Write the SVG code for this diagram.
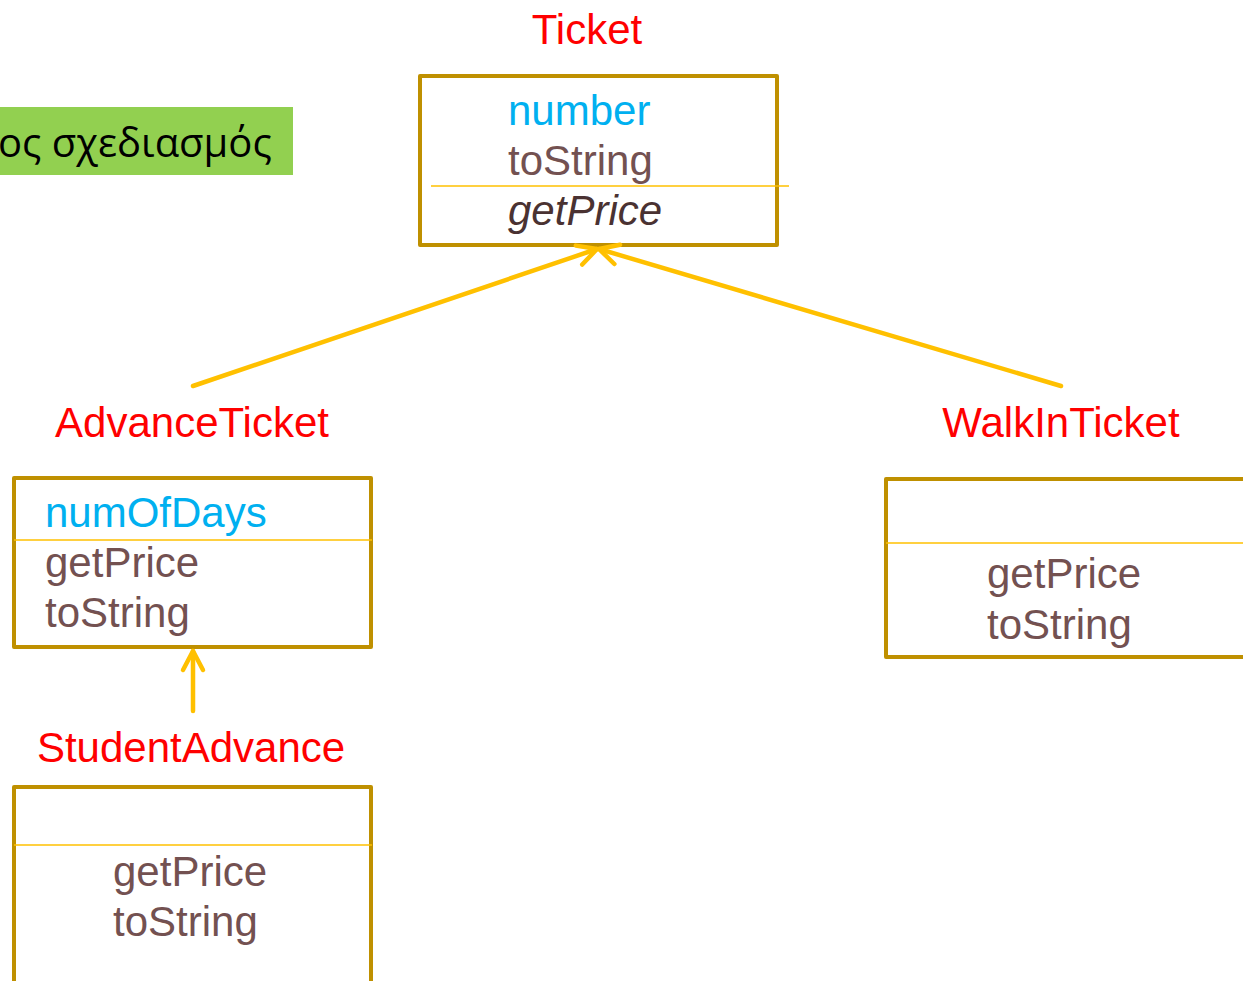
<svg xmlns="http://www.w3.org/2000/svg" width="1243" height="981" viewBox="0 0 1243 981">
<style>
.box{fill:#fff;stroke:#BF9000;stroke-width:4;stroke-linejoin:round}
.div{stroke:#FFC000;stroke-width:1.5}
.title{font-family:"Liberation Sans",Arial,sans-serif;font-size:42px;fill:#FF0000}
.attr{font-family:"Liberation Sans",Arial,sans-serif;font-size:42px;fill:#00B0F0}
.meth{font-family:"Liberation Sans",Arial,sans-serif;font-size:42px;fill:#735151}
.abs{font-family:"Liberation Sans",Arial,sans-serif;font-size:42px;font-style:italic;fill:#4A3232}
.conn{stroke:#FFC000;stroke-width:4.5;fill:none;stroke-linecap:round}
</style>
<defs>
<marker id="open" markerUnits="userSpaceOnUse" viewBox="-24 -14 28 28" refX="0" refY="0" markerWidth="28" markerHeight="28" orient="auto">
<path d="M-19,-10 L0,0 L-19,10" fill="none" stroke="#FFC000" stroke-width="4.5" stroke-linecap="round" stroke-linejoin="round"/>
</marker>
</defs>
<rect width="1243" height="981" fill="#fff"/>
<g id="banner">
<rect x="0" y="107" width="293" height="68" fill="#92D050"/>
<text x="-2" y="157" font-family="'Open Sans','Noto Sans',sans-serif" font-size="40" fill="#000">ος σχεδιασμός</text>
</g>
<g id="ticket">
<text class="title" x="587" y="44" text-anchor="middle">Ticket</text>
<rect class="box" x="420" y="76" width="357" height="169"/>
<line class="div" x1="431" y1="186" x2="789" y2="186"/>
<text class="attr" x="508" y="125">number</text>
<text class="meth" x="508" y="175">toString</text>
<text class="abs" x="508" y="225">getPrice</text>
</g>
<g id="advanceticket">
<text class="title" x="192" y="437" text-anchor="middle">AdvanceTicket</text>
<rect class="box" x="14" y="478" width="357" height="169"/>
<line class="div" x1="14" y1="540" x2="372" y2="540"/>
<text class="attr" x="45" y="527">numOfDays</text>
<text class="meth" x="45" y="577">getPrice</text>
<text class="meth" x="45" y="627">toString</text>
</g>
<g id="walkinticket">
<text class="title" x="1061" y="437" text-anchor="middle">WalkInTicket</text>
<rect class="box" x="886" y="479" width="360" height="178"/>
<line class="div" x1="886" y1="543" x2="1243" y2="543"/>
<text class="meth" x="987" y="588">getPrice</text>
<text class="meth" x="987" y="639">toString</text>
</g>
<g id="studentadvance">
<text class="title" x="191" y="762" text-anchor="middle">StudentAdvance</text>
<rect class="box" x="14" y="787" width="357" height="200"/>
<line class="div" x1="14" y1="845" x2="372" y2="845"/>
<text class="meth" x="113" y="886">getPrice</text>
<text class="meth" x="113" y="936">toString</text>
</g>
<g id="connectors">
<line class="conn" x1="193" y1="386" x2="597" y2="249" marker-end="url(#open)"/>
<line class="conn" x1="1061" y1="386" x2="599" y2="249" marker-end="url(#open)"/>
<line class="conn" x1="193" y1="711" x2="193" y2="651" marker-end="url(#open)"/>
</g>
</svg>
